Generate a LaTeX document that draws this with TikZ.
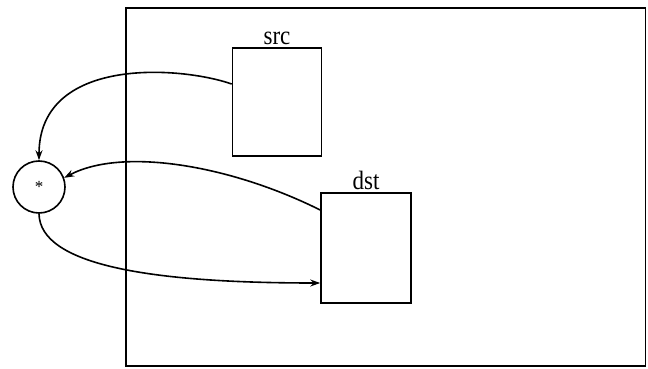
\documentclass[tikz,border=0pt]{standalone}
\usepackage{fontspec}
\setmainfont{Liberation Serif}
\usetikzlibrary{arrows.meta}
\begin{document}
\begin{tikzpicture}[x=1pt,y=-1pt,
  box/.style={draw, line width=1.6pt, minimum width=89pt, minimum height=108pt, inner sep=0pt},
  op/.style={draw, circle, line width=1.6pt, minimum size=52pt, inner sep=0pt, font=\fontsize{17}{17}\selectfont},
  lbl/.style={font=\fontsize{23}{23}\selectfont, inner sep=2pt, yscale=1.15},
  flow/.style={line width=1.6pt, -{Stealth[length=10pt,width=7pt]}}]
\useasboundingbox (0,0) rectangle (648,369);
\draw[line width=1.6pt] (126,8) rectangle (645.5,366);
\node[box] (src) at (277,102) {};
\node[lbl, anchor=south] (srclbl) at (src.north) {src};
\node[box, minimum width=90pt, minimum height=110pt] (dst) at (366,248) {};
\node[lbl, anchor=south] (dstlbl) at (dst.north) {dst};
\node[op] (mul) at (39,187) {*};
\draw[flow] ([yshift=18pt]src.west) .. controls (180,66) and (39,56) .. (mul.north);
\draw[flow] ([yshift=38pt]dst.west) .. controls (230,165) and (122,147) .. (mul.20);
\draw[flow] (mul.south) .. controls (40,265) and (150,283) .. ([yshift=-35pt]dst.west);
\end{tikzpicture}
\end{document}
